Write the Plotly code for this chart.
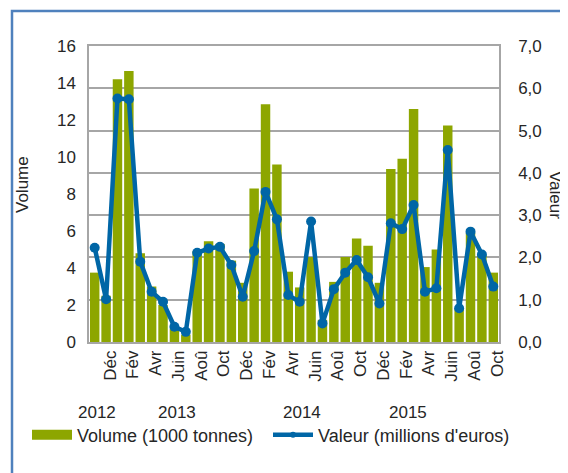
import plotly.graph_objects as go

months = ["Nov 2012", "Déc 2012",
          "Jan 2013", "Fév 2013", "Mar 2013", "Avr 2013", "Mai 2013", "Juin 2013",
          "Juil 2013", "Aoû 2013", "Sep 2013", "Oct 2013", "Nov 2013", "Déc 2013",
          "Jan 2014", "Fév 2014", "Mar 2014", "Avr 2014", "Mai 2014", "Juin 2014",
          "Juil 2014", "Aoû 2014", "Sep 2014", "Oct 2014", "Nov 2014", "Déc 2014",
          "Jan 2015", "Fév 2015", "Mar 2015", "Avr 2015", "Mai 2015", "Juin 2015",
          "Juil 2015", "Aoû 2015", "Sep 2015", "Oct 2015"]

volume = [3.75, 2.5, 14.2, 14.65, 4.8, 3.0, 2.0, 0.7, 0.4, 4.9, 5.45, 5.3,
          4.4, 3.2, 8.3, 12.85, 9.6, 3.8, 2.95, 4.6, 1.2, 3.25, 4.6, 5.6,
          5.2, 3.2, 9.35, 9.9, 12.6, 4.05, 5.0, 11.7, 1.8, 5.9, 4.7, 3.75]

valeur = [2.23, 1.01, 5.76, 5.74, 1.90, 1.19, 0.95, 0.36, 0.24, 2.11, 2.21, 2.25,
          1.82, 1.07, 2.15, 3.55, 2.90, 1.11, 0.95, 2.85, 0.44, 1.25, 1.64, 1.94,
          1.53, 0.91, 2.81, 2.67, 3.24, 1.19, 1.27, 4.54, 0.80, 2.61, 2.07, 1.31]

tick_months = months[1::2]
tick_labels = [m.split(" ")[0] for m in tick_months]

year_labels = ["2012", "2013", "2014", "2015"]
year_pos = [0.2, 7.2, 18.2, 27.5]

FONT = "Liberation Sans, Arial, sans-serif"
TXT = "#262626"
GREEN = "#8DA600"
BLUE = "#0066A6"
GRID = "#A6A6A6"

# page has an 8px body margin: work in figure pixels = page pixels - 8
OFF = 8
W, H = 568 - OFF, 473 - OFF
L, T = 89 - OFF, 46 - OFF
PW, PH = 410, 296
R, B = W - L - PW, H - T - PH


def px_x(page_x):
    return (page_x - OFF - L) / PW


def px_y(page_y):
    return (T + PH - (page_y - OFF)) / PH


fig = go.Figure()
fig.add_trace(go.Bar(x=months, y=volume, name="Volume (1000 tonnes)",
                     marker=dict(color=GREEN, line=dict(width=0)), yaxis="y",
                     showlegend=False))
fig.add_trace(go.Scatter(x=months, y=valeur, name="Valeur (millions d'euros)",
                         mode="lines+markers", yaxis="y2", showlegend=False,
                         line=dict(color=BLUE, width=4.5),
                         marker=dict(color=BLUE, size=10)))
# legend keys (no data drawn)
fig.add_trace(go.Scatter(x=[None], y=[None], name="Volume (1000 tonnes)",
                         mode="lines", line=dict(color=GREEN, width=10),
                         legend="legend", yaxis="y"))
fig.add_trace(go.Scatter(x=[None], y=[None], name="Valeur (millions d'euros)",
                         mode="lines+markers", line=dict(color=BLUE, width=4.5),
                         marker=dict(color=BLUE, size=6),
                         legend="legend2", yaxis="y2"))

for t, p in zip(year_labels, year_pos):
    fig.add_annotation(x=p, xref="x", y=px_y(412), yref="paper", text=t,
                       showarrow=False, xanchor="center", yanchor="middle",
                       font=dict(family=FONT, size=17, color=TXT))

fig.add_annotation(x=px_x(556), xref="paper", y=px_y(195), yref="paper",
                   text="Valeur", textangle=90, showarrow=False,
                   xanchor="center", yanchor="middle",
                   font=dict(family=FONT, size=17, color=TXT))
fig.add_annotation(x=px_x(22), xref="paper", y=px_y(185), yref="paper",
                   text="Volume", textangle=-90, showarrow=False,
                   xanchor="center", yanchor="middle",
                   font=dict(family=FONT, size=17, color=TXT))

# blue frame around the chart
fig.add_shape(type="rect", xref="paper", yref="paper",
              x0=px_x(12), x1=px_x(590),
              y0=px_y(495), y1=px_y(11),
              line=dict(color="#4F81BD", width=2.5), layer="below")

leg_common = dict(orientation="h", xref="container", yref="container",
                  xanchor="left", yanchor="middle", y=(H - 427) / H,
                  font=dict(family=FONT, size=18, color=TXT),
                  itemwidth=40, bgcolor="rgba(0,0,0,0)", borderwidth=0)

fig.update_layout(
    width=W, height=H,
    margin=dict(l=L, r=R, t=T, b=B, autoexpand=False),
    paper_bgcolor="white", plot_bgcolor="white",
    separators=", ",
    bargap=0.17,
    font=dict(family=FONT, size=17, color=TXT),
    showlegend=True,
    legend=dict(x=19 / W, **leg_common),
    legend2=dict(x=260 / W, **leg_common),
    xaxis=dict(type="category", range=[-0.5, len(months) - 0.5],
               tickmode="array", tickvals=tick_months,
               ticktext=tick_labels, tickangle=-90, showgrid=False,
               showline=True, linecolor=GRID, linewidth=1.5, mirror=True,
               ticks="", tickfont=dict(size=17), automargin=False,
               ticklabelshift=4),
    yaxis=dict(range=[0, 16], dtick=2, showgrid=False, showline=True,
               linecolor=GRID, linewidth=1.5, ticks="", zeroline=False,
               ticklabelstandoff=8, automargin=False),
    yaxis2=dict(range=[0, 7], dtick=1, tickformat=".1f", overlaying="y",
                side="right", showgrid=True, gridcolor=GRID, gridwidth=1.5,
                showline=True, linecolor=GRID, linewidth=1.5, ticks="",
                zeroline=False, ticklabelstandoff=14, automargin=False),
)

fig.write_html("out.html")
